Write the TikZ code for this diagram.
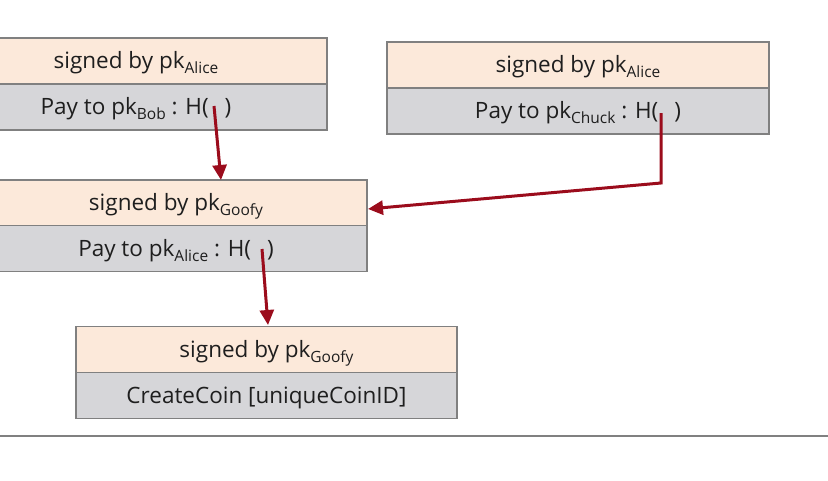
\documentclass[tikz,border=0pt]{standalone}
\usepackage{fontspec}
\setmainfont{Open Sans}
\usetikzlibrary{arrows.meta}
\definecolor{peach}{RGB}{252,233,218}
\definecolor{boxgray}{RGB}{214,214,217}
\definecolor{edgegray}{RGB}{128,128,128}
\definecolor{arrowred}{RGB}{155,12,28}
\definecolor{txt}{RGB}{30,30,30}
\newcommand{\sbs}[1]{\raisebox{-0.45ex}{\fontsize{15.5}{15.5}\selectfont #1}}
\tikzset{
  part/.style={draw=edgegray, line width=1.5pt, rectangle, inner sep=0pt,
    minimum height=46pt, text height=20pt, text depth=5pt, text=txt,
    font=\fontsize{22.5}{26}\selectfont},
  hdr/.style={part, fill=peach},
  bdy/.style={part, fill=boxgray},
  link/.style={draw=arrowred, line width=3pt, line join=miter,
    -{Triangle[length=15pt,width=14pt]}},
  rule/.style={draw=edgegray, line width=1.5pt}
}
\begin{document}
\begin{tikzpicture}[x=1pt,y=-1pt]
\useasboundingbox (0,0) rectangle (828,480);
% box 1
\node[hdr, minimum width=382pt] (h1) at (136,61) {signed by pk\sbs{Alice}};
\node[bdy, minimum width=382pt] (b1) at (136,107) {Pay to pk\sbs{Bob} : H(\hspace{16pt})};
% box 2
\node[hdr, minimum width=382pt] (h2) at (578,65) {signed by pk\sbs{Alice}};
\node[bdy, minimum width=382pt] (b2) at (578,111) {Pay to pk\sbs{Chuck} : H(\hspace{16pt})};
% box 3
\node[hdr, minimum width=382pt] (h3) at (176,203) {signed by pk\sbs{Goofy}};
\node[bdy, minimum width=382pt] (b3) at (176,248.5) {Pay to pk\sbs{Alice} : H(\hspace{16pt})};
% box 4
\node[hdr, minimum width=381pt] (h4) at (266.5,349.5) {signed by pk\sbs{Goofy}};
\node[bdy, minimum width=381pt] (b4) at (266.5,395.5) {CreateCoin [uniqueCoinID]};
% rule
\coordinate (rl) at (0,436);
\coordinate (rr) at (828,436);
\draw[rule] (rl) -- (rr);
% connector coordinates
\coordinate (s1) at (214,106);
\coordinate (e1) at (221,180);
\coordinate (s2) at (661,113);
\coordinate (k2) at (661,183);
\coordinate (e2) at (368,209);
\coordinate (s3) at (262,249);
\coordinate (e3) at (268,325);
\draw[link] (s1) -- (e1);
\draw[link] (s2) -- (k2) -- (e2);
\draw[link] (s3) -- (e3);
\end{tikzpicture}
\end{document}
